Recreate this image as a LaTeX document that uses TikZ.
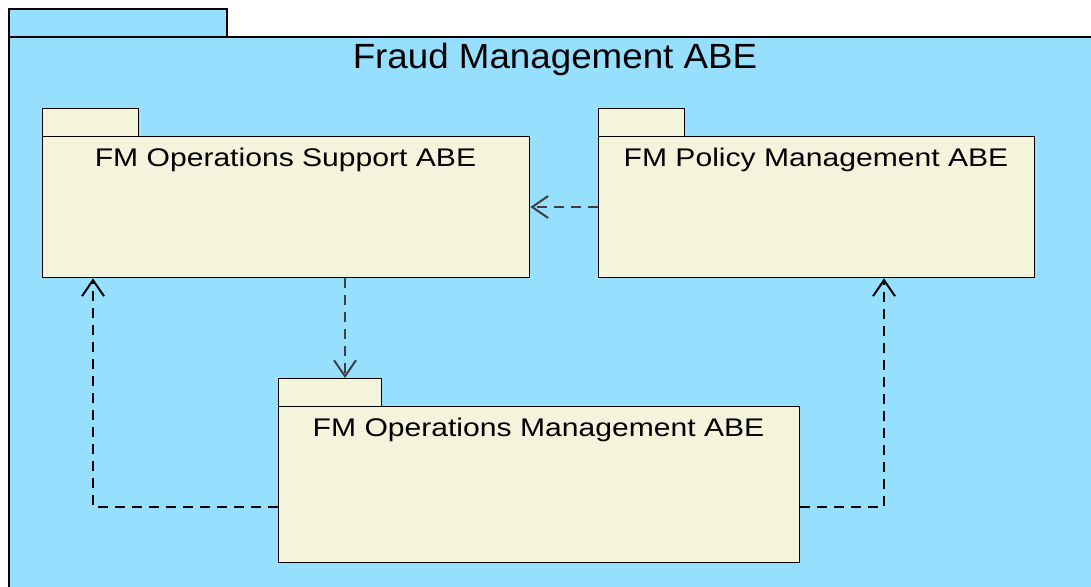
\documentclass[tikz,border=0pt]{standalone}
\usepackage{fontspec}
\setmainfont{Liberation Sans}
\newfontfamily\titlefont[FakeStretch=1.05]{Liberation Sans}
\newfontfamily\pkgfont[FakeStretch=1.18]{Liberation Sans}
\usetikzlibrary{arrows.meta,positioning}
\definecolor{pkgblue}{HTML}{97DFFF}
\definecolor{pkgcream}{HTML}{F4F4DC}
\definecolor{depgray}{HTML}{404040}
\tikzset{
  outerpkg/.style={draw=black, fill=pkgblue, line width=1.6pt, inner sep=0pt},
  innerpkg/.style={draw=black, fill=pkgcream, line width=1.4pt, inner sep=0pt},
  pkglabel/.style={font=\pkgfont\fontsize{25.5}{28}\selectfont, inner sep=0pt, anchor=north},
  dep/.style={line width=1.8pt, dash pattern=on 10pt off 7pt,
    -{Straight Barb[length=16pt,width=22pt,line width=2pt]}},
}
\begin{document}
\begin{tikzpicture}[x=1pt,y=-1pt]
\useasboundingbox (0,0) rectangle (1091,586);
\begin{scope}
\clip (0,0) rectangle (1091,586);
% enclosing package
\node[outerpkg, minimum width=218pt, minimum height=28pt, anchor=north west] (fmtab) at (8,8) {};
\node[outerpkg, minimum width=1200pt, minimum height=700pt, anchor=north west] (fm) at (8,36) {};
\end{scope}
\node[font=\titlefont\fontsize{35}{40}\selectfont, inner sep=0pt, anchor=north] (fmlabel) at (555,43) {Fraud Management ABE};
% FM Operations Support ABE
\node[innerpkg, minimum width=96pt, minimum height=28pt, anchor=north west] (suptab) at (42,108) {};
\node[innerpkg, minimum width=487pt, minimum height=141pt, anchor=north west] (sup) at (42,136) {};
\node[pkglabel] (suplabel) at (285.5,148) {FM Operations Support ABE};
% FM Policy Management ABE
\node[innerpkg, minimum width=86pt, minimum height=28pt, anchor=north west] (poltab) at (598,108) {};
\node[innerpkg, minimum width=436pt, minimum height=141pt, anchor=north west] (pol) at (598,136) {};
\node[pkglabel] (pollabel) at (816,148) {FM Policy Management ABE};
% FM Operations Management ABE
\node[innerpkg, minimum width=103pt, minimum height=28pt, anchor=north west] (opstab) at (278,378) {};
\node[innerpkg, minimum width=521pt, minimum height=156pt, anchor=north west] (ops) at (278,406) {};
\node[pkglabel] (opslabel) at (538.5,418) {FM Operations Management ABE};
% routing points for the dependencies
\coordinate (ydep) at (0,207);
\coordinate (xdown) at (345,0);
\coordinate (yleft) at (0,507);
\coordinate (xleft) at (93,0);
\coordinate (xright) at (884,0);
% dependencies
\draw[dep, depgray] (pol.west |- ydep) -- (sup.east |- ydep);
\draw[dep, depgray] (sup.south -| xdown) -- (opstab.north -| xdown);
\draw[dep, black] (ops.west |- yleft) -| (sup.south -| xleft);
\draw[dep, black] (ops.east |- yleft) -| (pol.south -| xright);
\end{tikzpicture}
\end{document}
